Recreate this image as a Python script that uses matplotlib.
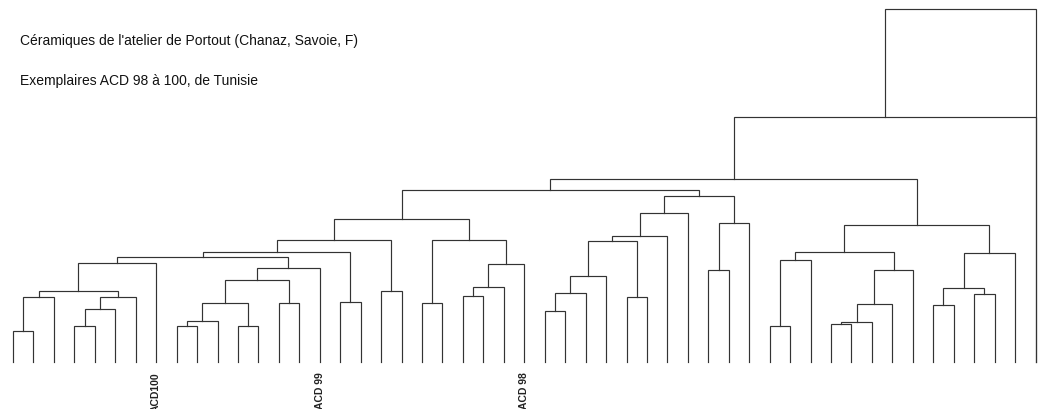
import matplotlib
matplotlib.use("Agg")
import matplotlib.pyplot as plt

# Leaves of the dendrogram (51 samples), only three are labelled
n_leaves = 51
leaf_labels = {7: "ACD100", 15: "ACD 99", 25: "ACD 98"}

# Linkage rows: left child, right child, merge height (distance units)
# ids >= n_leaves refer to previous rows (like scipy linkage)
left_child = [0, 51, 3, 53, 54, 52, 56,
              8, 58, 11, 59, 13, 61, 63, 57, 16, 65, 18, 67,
              20, 22, 71, 72, 70, 69,
              26, 76, 77, 30, 78, 80, 81, 34, 83, 82, 75,
              37, 87, 40, 89, 90, 91, 88, 45, 47, 94, 96, 93, 86,
              99, 100]
right_child = [1, 2, 4, 5, 6, 55, 7,
               9, 10, 12, 60, 14, 62, 15, 64, 17, 66, 19, 68,
               21, 23, 24, 25, 73, 74,
               27, 28, 29, 31, 79, 32, 33, 35, 36, 84, 85,
               38, 39, 41, 42, 43, 44, 92, 46, 48, 95, 49, 97, 98,
               50, 50]
merge_height = [8.8, 18.4, 10.2, 15.0, 18.4, 20.1, 28.0,
                10.2, 11.6, 10.2, 16.7, 16.7, 23.2, 26.6, 29.7, 17.0, 31.2, 20.1, 34.6,
                16.7, 18.7, 21.2, 27.8, 34.6, 40.5,
                14.4, 19.5, 24.4, 18.4, 34.3, 35.7, 42.2, 26.1, 39.4, 47.0, 48.7,
                10.2, 28.9, 10.9, 11.3, 16.4, 26.1, 31.2, 16.1, 19.3, 21.0, 30.9, 38.8, 51.8,
                69.4, 100.0]

title_1 = "Céramiques de l'atelier de Portout (Chanaz, Savoie, F)"
title_2 = "Exemplaires ACD 98 à 100, de Tunisie"

plt.rcParams['font.family'] = ['Liberation Sans', 'DejaVu Sans']

fig = plt.figure(figsize=(10.49, 4.10), dpi=100)
ax = fig.add_axes([0, 0, 1, 1])

# positions and heights of every node
xpos = {i: float(i) for i in range(n_leaves)}
hpos = {i: 0.0 for i in range(n_leaves)}
line_color = "#333333"
for k, (a, b, h) in enumerate(zip(left_child, right_child, merge_height)):
    xa, xb = xpos[a], xpos[b]
    ax.plot([xa, xa, xb, xb], [hpos[a], h, h, hpos[b]],
            color=line_color, lw=0.85, solid_joinstyle='miter')
    xpos[n_leaves + k] = (xa + xb) / 2
    hpos[n_leaves + k] = h

for i, lab in leaf_labels.items():
    ax.text(i, -2.6, lab, rotation=90, ha='center', va='top',
            fontsize=7.5, fontweight='bold', color="#222222")

fig.text(20 / 1049, 1 - 41 / 410, title_1, fontsize=10, va='center', ha='left', color="#111111")
fig.text(20 / 1049, 1 - 81 / 410, title_2, fontsize=10, va='center', ha='left', color="#111111")

ax.set_xlim(-13 / 20.45, (1049 - 13) / 20.45)
ax.set_ylim(-47 / 3.53, 363 / 3.53)
ax.axis('off')

fig.savefig("out.png", dpi=100, facecolor="white")
